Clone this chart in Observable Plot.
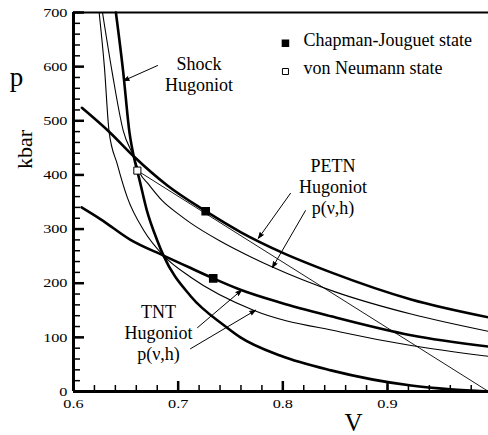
<!DOCTYPE html>
<html><head><meta charset="utf-8">
<script src="https://cdn.jsdelivr.net/npm/d3@7"></script>
<script src="https://cdn.jsdelivr.net/npm/@observablehq/plot@0.6"></script>
<style>body{margin:0;background:#fff}#chart svg{display:block}#chart svg text{font-family:"Liberation Serif","Times New Roman",serif !important}</style>
</head><body><div id="chart"></div>
<script>
// Unreacted shock Hugoniot (thick)
const shockV = [0.6405,0.6475,0.6535,0.6577,0.6608,0.6624,0.670,0.680,0.686,0.712,0.744,0.7595,0.798,0.846,0.9225,0.96,0.9965];
const shockP = [700,590,478,433,408,396,335,279,251,176,122,100,66,39,11,4,0];
// PETN products Hugoniot (thick)
const petnV = [0.608,0.635,0.6577,0.690,0.7263,0.760,0.800,0.846,0.9225,0.9965];
const petnP = [524,478,434,380,333,294,256,220,170,137];
// PETN p(v,h) (thin)
const petnHV = [0.6277,0.637,0.6475,0.6577,0.663,0.672,0.685,0.700,0.712,0.740,0.769,0.790,0.850,0.9225,0.9965];
const petnHP = [700,589,482,433,405,382,352,328,311,278,249,230,184,143,111];
// TNT products Hugoniot (thick)
const tntV = [0.6077,0.626,0.6545,0.686,0.712,0.7335,0.7595,0.798,0.846,0.9225,0.9965];
const tntP = [340,318,280,251,228,209,188,164,139,104,83];
// TNT p(v,h) (thin)
const tntHV = [0.6245,0.6295,0.634,0.6418,0.6513,0.6673,0.686,0.712,0.772,0.855,0.9225,0.9965];
const tntHP = [700,600,480,420,359,297,251,211,150,110,85,65];
// PETN Rayleigh line (thin)
const rayV = [0.661,0.9965];
const rayP = [408,0];
// Chapman-Jouguet and von Neumann states
const cjV = [0.7263,0.7335];
const cjP = [333,209];
const vnV = [0.661];
const vnP = [408];
// Tick values
const xMajor = [0.6,0.7,0.8,0.9];
const xMinor = d3.range(31).map(i => 0.6 + i*0.02).filter(v => v < 0.997);
const yMajor = [0,100,200,300,400,500,600,700];
const yMinor = d3.range(36).map(i => i*20);
// Annotations
const noteText = ["Shock\nHugoniot","PETN\nHugoniot\np(ν,h)","TNT\nHugoniot\np(ν,h)"];
const noteV = [0.7199,0.8479,0.6812];
const noteP = [587,379,109];
const arrowV1 = [0.6803,0.8073,0.8216,0.7185,0.7118];
const arrowP1 = [602,366,334,118,79];
const arrowV2 = [0.6478,0.7767,0.7901,0.7605,0.7739];
const arrowP2 = [574,283,229,187,150];
const legendLabels = ["Chapman-Jouguet state","von Neumann state"];
const legendV = [0.8025,0.8025];
const legendP = [643,591];
const legendTextV = 0.8197;

const zip = (V,P) => V.map((v,i) => ({V:v, p:P[i]}));
const serif = "Liberation Serif";

const chart = Plot.plot({
  width: 488, height: 435,
  marginLeft: 73, marginRight: 0, marginTop: 12, marginBottom: 44,
  style: {fontFamily: serif, background: "#fff", overflow: "visible"},
  x: {domain: [0.6, 0.9965], axis: null},
  y: {domain: [0, 700], axis: null},
  marks: [
    // curves
    Plot.line(zip(shockV, shockP), {x:"V", y:"p", stroke:"#000", strokeWidth:2.6, curve:"monotone-x"}),
    Plot.line(zip(petnV, petnP), {x:"V", y:"p", stroke:"#000", strokeWidth:2.6, curve:"monotone-x"}),
    Plot.line(zip(tntV, tntP), {x:"V", y:"p", stroke:"#000", strokeWidth:2.6, curve:"monotone-x"}),
    Plot.line(zip(petnHV, petnHP), {x:"V", y:"p", stroke:"#000", strokeWidth:1.1, curve:"monotone-x"}),
    Plot.line(zip(tntHV, tntHP), {x:"V", y:"p", stroke:"#000", strokeWidth:1.1, curve:"monotone-x"}),
    Plot.line(zip(rayV, rayP), {x:"V", y:"p", stroke:"#000", strokeWidth:0.9}),
    // frame lines
    Plot.ruleY([700], {stroke:"#000", strokeWidth:2}),
    Plot.ruleY([0], {stroke:"#000", strokeWidth:3}),
    Plot.ruleX([0.6], {stroke:"#000", strokeWidth:3}),
    // y ticks (inward)
    Plot.axisY(yMinor, {label:null, tickSize:7, dx:7, tickFormat:() => "", strokeWidth:1.5}),
    Plot.axisY(yMajor, {label:null, tickSize:11, dx:11, tickFormat:() => "", strokeWidth:2.5}),
    Plot.axisY(yMajor, {label:null, tickSize:0, tickPadding:6, fontSize:13, fontFamily:serif, tickFormat: d => String(d)}),
    // x ticks (inward)
    Plot.axisX(xMinor, {label:null, tickSize:6, dy:-6, tickFormat:() => "", strokeWidth:1.5}),
    Plot.axisX(xMajor, {label:null, tickSize:10, dy:-10, tickFormat:() => "", strokeWidth:2.5}),
    Plot.axisX(xMajor, {label:null, tickSize:0, tickPadding:7, fontSize:13, fontFamily:serif, tickFormat: d => d.toFixed(1)}),
    // states
    Plot.dot(zip(cjV, cjP), {x:"V", y:"p", symbol:"square", r:4, fill:"#000", stroke:"#000"}),
    Plot.dot(zip(vnV, vnP), {x:"V", y:"p", symbol:"square", r:4, fill:"#fff", stroke:"#000", strokeWidth:1}),
    // legend
    Plot.dot([0], {x:() => legendV[0], y:() => legendP[0], symbol:"square", r:3.4, fill:"#000", stroke:"#000"}),
    Plot.dot([0], {x:() => legendV[1], y:() => legendP[1], symbol:"square", r:3.4, fill:"#fff", stroke:"#000", strokeWidth:1}),
    Plot.text(legendLabels, {x:() => legendTextV, y:(d,i) => legendP[i] + 6, text:d => d, textAnchor:"start", fontSize:18, fontFamily:serif, fill:"#000"}),
    // annotations
    Plot.text(noteText, {x:(d,i) => noteV[i], y:(d,i) => noteP[i], text:d => d, fontSize:18, fontFamily:serif, lineHeight:1.17, fill:"#000"}),
    Plot.arrow(arrowV1, {x1:d => d, y1:(d,i) => arrowP1[i], x2:(d,i) => arrowV2[i], y2:(d,i) => arrowP2[i], stroke:"#000", strokeWidth:1, headLength:9, headAngle:40}),
    // axis titles
    Plot.text(["p"], {x:() => 0.5455, y:() => 581, text:d => d, fontSize:27, fontFamily:serif, fill:"#000"}),
    Plot.text(["kbar"], {x:() => 0.5535, y:() => 447, text:d => d, fontSize:22, fontFamily:serif, rotate:-90, fill:"#000"}),
    Plot.text(["V"], {x:() => 0.8675, y:() => -58, text:d => d, fontSize:25, fontFamily:serif, fill:"#000"})
  ]
});
// widen tick labels like the reference's stretched serif digits
d3.select(chart).selectAll('g[aria-label="y-axis tick label"] text, g[aria-label="x-axis tick label"] text')
  .attr("transform", function() { return (this.getAttribute("transform") || "") + " scale(1.25,1)"; });
// filled arrow heads
d3.select(chart).selectAll('g[aria-label="arrow"] path').attr("fill", "#000");
document.getElementById("chart").appendChild(chart);
</script>
</body></html>
